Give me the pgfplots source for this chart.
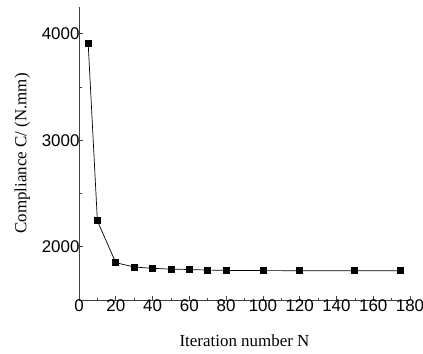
\documentclass[border=0pt]{standalone}
\usepackage{fontspec}
\setmainfont{Liberation Serif}
\newfontfamily\arialfont{Liberation Sans}
\usepackage{pgfplots}
\pgfplotsset{compat=1.18}
\begin{document}
\begin{tikzpicture}
\begin{axis}[
  scale only axis,
  width=331bp, height=293bp,
  xmin=0, xmax=180, ymin=1500, ymax=4250,
  axis lines*=left,
  axis line style={line width=0.8bp, black!75},
  xtick={0,20,...,180},
  ytick={2000,3000,4000},
  minor x tick num=1,
  minor y tick num=1,
  tick align=inside,
  major tick length=4bp, minor tick length=2.5bp,
  tick style={line width=0.6bp, black!75},
  /pgf/number format/assume math mode=true,
  /pgf/number format/1000 sep={},
  ticklabel style={font=\arialfont\fontsize{17}{19}\selectfont},
  xticklabel style={yshift=3.5bp},
  yticklabel style={xshift=4bp},
  xlabel={Iteration number N},
  ylabel={Compliance C/ (N.mm)},
  label style={font=\fontsize{17}{19}\selectfont},
  xlabel style={yshift=-16bp},
  ylabel style={yshift=5bp},
  clip=false,
]
\addplot[black, line width=0.7bp, mark=square*, mark size=3bp, mark options={solid}]
coordinates {
(5,3905) (10,2243) (20,1850) (30,1810) (40,1797) (50,1790) (60,1786) (70,1781) (80,1778) (100,1776) (120,1775) (150,1775) (175,1775)
};
\end{axis}
\pgfresetboundingbox
\useasboundingbox (current axis.south west) ++(-79bp,-54bp) rectangle ++(423bp,354bp);
\end{tikzpicture}
\end{document}
